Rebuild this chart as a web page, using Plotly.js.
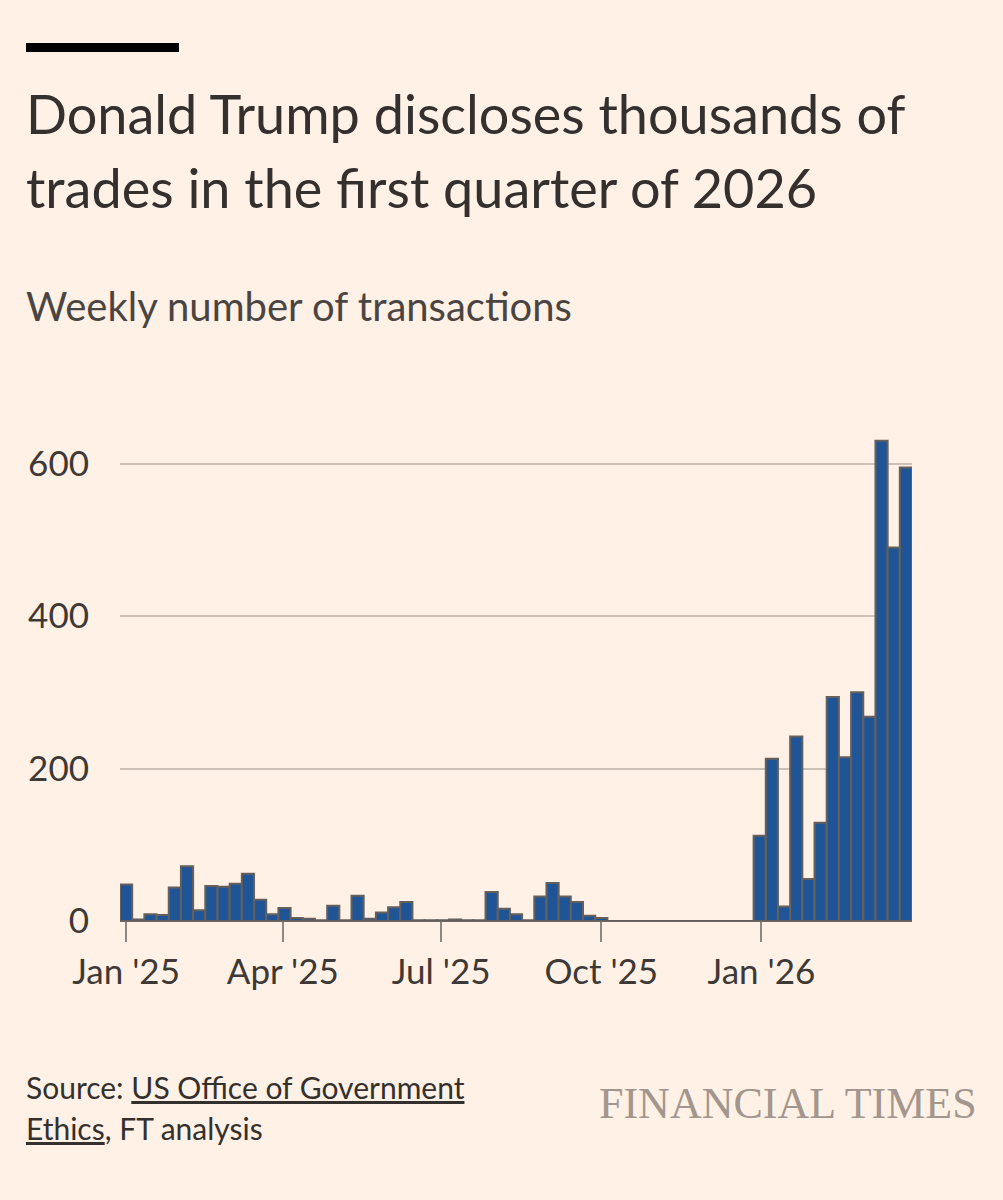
<!DOCTYPE html>
<html>
<head>
<meta charset="utf-8">
<script src="https://cdn.plot.ly/plotly-3.0.1.min.js"></script>
<style>
  html, body { margin: 0; padding: 0; background: #FFF1E5; }
  #chart { width: 1003px; height: 1200px; }
</style>
</head>
<body>
<div id="chart"></div>
<script>
// ---- Data ----
const weeks = [
  '2025-01-01','2025-01-08','2025-01-15','2025-01-22','2025-01-29',
  '2025-02-05','2025-02-12','2025-02-19','2025-02-26',
  '2025-03-05','2025-03-12','2025-03-19','2025-03-26',
  '2025-04-02','2025-04-09','2025-04-16','2025-04-23','2025-04-30',
  '2025-05-07','2025-05-14','2025-05-21','2025-05-28',
  '2025-06-04','2025-06-11','2025-06-18','2025-06-25',
  '2025-07-02','2025-07-09','2025-07-16','2025-07-23','2025-07-30',
  '2025-08-06','2025-08-13','2025-08-20','2025-08-27',
  '2025-09-03','2025-09-10','2025-09-17','2025-09-24',
  '2025-10-01','2025-10-08','2025-10-15','2025-10-22','2025-10-29',
  '2025-11-05','2025-11-12','2025-11-19','2025-11-26',
  '2025-12-03','2025-12-10','2025-12-17','2025-12-24','2025-12-31',
  '2026-01-07','2026-01-14','2026-01-21','2026-01-28',
  '2026-02-04','2026-02-11','2026-02-18','2026-02-25',
  '2026-03-04','2026-03-11','2026-03-18','2026-03-25'
];
const transactions = [
  48, 2, 9, 8, 44,
  72, 14, 46, 45,
  49, 62, 28, 9,
  17, 4, 3, 1, 20,
  1, 33, 3, 11,
  18, 25, 1, 1,
  1, 2, 1, 1, 38,
  16, 9, 1, 32,
  50, 32, 25, 7,
  4, 0, 0, 0, 0,
  0, 0, 0, 0,
  0, 0, 0, 0, 112,
  213, 19, 242, 55,
  129, 294, 215, 300,
  268, 630, 490, 595
];
const xTickVals = ['2025-01-01','2025-04-01','2025-07-01','2025-10-01','2026-01-01'];
const xTickText = ["Jan '25","Apr '25","Jul '25","Oct '25","Jan '26"];
const yTickVals = [0, 200, 400, 600];
const yTickText = ['0', '200', '400', '600'];

const titleLines = ['Donald Trump discloses thousands of', 'trades in the first quarter of 2026'];
const subtitleText = 'Weekly number of transactions';
const sourceLines = ['Source: <u>US Office of Government</u>', '<u>Ethics</u>, FT analysis'];
const brandText = 'FINANCIAL TIMES';

// ---- Layout geometry (pixels) ----
const W = 1003, H = 1200;
const L = 120, R = 91, T = 418, B = 279;
const pw = W - L - R, ph = H - T - B;
const px = v => (v - L) / pw;        // pixel x -> paper x
const py = v => (H - B - v) / ph;    // pixel y -> paper y

const FONT = 'Lato, "Open Sans", sans-serif';
const TXT = '#33302e';

const trace = {
  type: 'bar',
  x: weeks,
  y: transactions,
  marker: { color: '#1f5597', line: { color: '#66605c', width: 2 } },
  hoverinfo: 'x+y'
};

function textNote(text, xPix, yTopPix, size, color, family) {
  return { text: text, xref: 'paper', yref: 'paper', x: px(xPix), y: py(yTopPix),
    xanchor: 'left', yanchor: 'top', align: 'left', showarrow: false,
    font: { family: family || FONT, size: size, color: color || TXT } };
}

const layout = {
  width: W, height: H,
  paper_bgcolor: '#FFF1E5',
  plot_bgcolor: '#FFF1E5',
  margin: { l: L, r: R, t: T, b: B, pad: 0 },
  bargap: 0,
  showlegend: false,
  font: { family: FONT, color: TXT },
  xaxis: {
    type: 'date',
    range: ['2024-12-28 12:00', '2026-03-28 12:00'],
    tickvals: xTickVals,
    ticktext: xTickText,
    ticks: 'outside',
    ticklen: 20,
    tickwidth: 2,
    tickcolor: '#8f8781',
    showgrid: false,
    zeroline: false,
    showline: false,
    tickfont: { family: FONT, size: 35, color: '#3d3936' },
    fixedrange: true
  },
  yaxis: {
    range: [0, 660],
    tickvals: yTickVals,
    ticktext: yTickText,
    ticks: '',
    showgrid: true,
    gridcolor: '#ccc1b7',
    gridwidth: 2,
    zeroline: true,
    zerolinecolor: '#6e6762',
    zerolinewidth: 2,
    showline: false,
    ticklabelstandoff: 30,
    tickfont: { family: FONT, size: 35, color: '#3d3936' },
    fixedrange: true
  },
  shapes: [
    { type: 'rect', xref: 'paper', yref: 'paper',
      x0: px(26), x1: px(179), y0: py(52), y1: py(43),
      fillcolor: '#000000', line: { width: 0 } }
  ],
  annotations: [
    textNote(titleLines[0], 24, 79, 54),
    textNote(titleLines[1], 24, 153, 54),
    textNote(subtitleText, 24, 280, 40, '#4a4542'),
    textNote(sourceLines[0], 24, 1067, 30),
    textNote(sourceLines[1], 24, 1108, 30),
    { text: brandText, xref: 'paper', yref: 'paper', x: px(979), y: py(1130),
      xanchor: 'right', yanchor: 'bottom', align: 'right', showarrow: false,
      font: { family: '"Liberation Serif", "DejaVu Serif", serif', size: 44, color: '#a2968e' } }
  ]
};

Plotly.newPlot('chart', [trace], layout, { displayModeBar: false, staticPlot: true });
</script>
</body>
</html>
